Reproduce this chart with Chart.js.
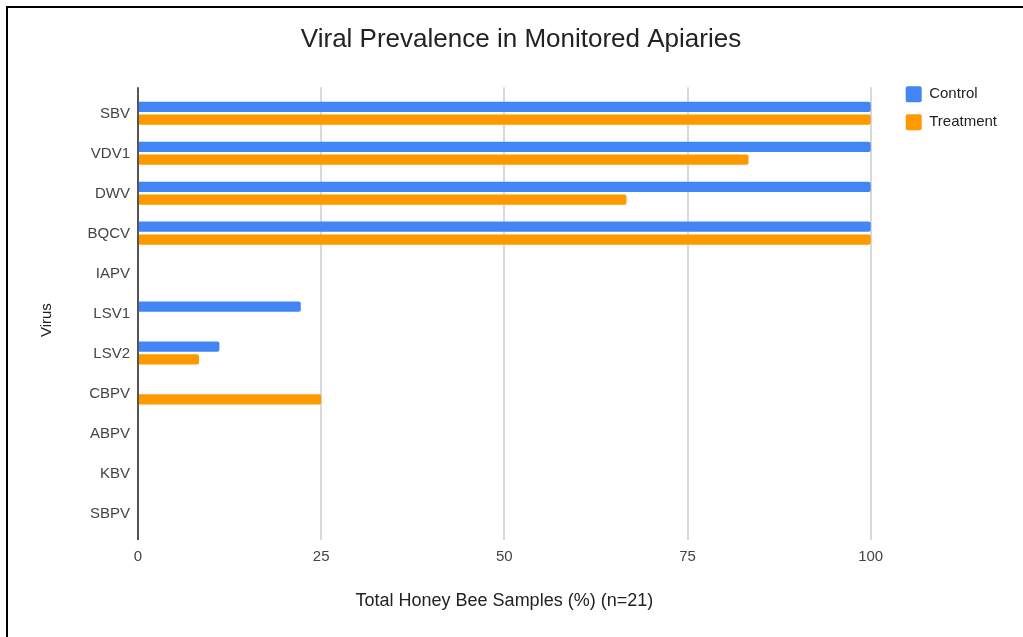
<!DOCTYPE html>
<html>
<head>
<meta charset="utf-8">
<script src="https://cdn.jsdelivr.net/npm/chart.js@4.4.1/dist/chart.umd.min.js"></script>
<style>
  html, body { margin: 0; padding: 0; background: #fff; }
  #wrap { position: relative; width: 1023px; height: 637px; overflow: hidden; }
  #frame { position: absolute; left: 6px; top: 6px; width: 1100px; height: 700px;
           border-top: 2px solid #000; border-left: 2px solid #000; pointer-events: none; }
  canvas { position: absolute; left: 0; top: 0; }
</style>
</head>
<body>
<div id="wrap">
  <canvas id="c" width="1023" height="637"></canvas>
  <div id="frame"></div>
</div>
<script>
const viruses = ['SBV', 'VDV1', 'DWV', 'BQCV', 'IAPV', 'LSV1', 'LSV2', 'CBPV', 'ABPV', 'KBV', 'SBPV'];
const controlValues = [100, 100, 100, 100, 0, 22.22, 11.11, 0, 0, 0, 0];
const treatmentValues = [100, 83.33, 66.67, 100, 0, 0, 8.33, 25, 0, 0, 0];
const xTicks = [0, 25, 50, 75, 100];

Chart.defaults.font.family = "'Liberation Sans', Arial, sans-serif";
Chart.defaults.font.size = 15;
Chart.defaults.color = '#444';

const GRID = '#d9d9d9';
const AXIS = '#555';

const tweaks = {
  id: 'tweaks',
  afterLayout(chart) {
    const ca = chart.chartArea;
    // legend placement (top-right, above plot top)
    const lg = chart.legend;
    const dx = (ca.right + 23) - lg.left;
    const dy = (ca.top - 19) - lg.top;
    lg.left += dx; lg.right += dx; lg.top += dy; lg.bottom += dy;
    // chart title centred slightly right, as in the reference
    const tb = chart.titleBlock;
    tb.left += 29; tb.right += 29;
    // y-axis title centred a little lower
    const ys = chart.scales.y;
    ys.top = ca.top + 14;
  },
  afterDraw(chart) {
    const xs = chart.scales.x, top = chart.chartArea.top, ctx = chart.ctx;
    ctx.save();
    ctx.lineWidth = 2;
    xs.ticks.forEach(t => {
      const px = Math.round(xs.getPixelForValue(t.value));
      ctx.strokeStyle = t.value === 0 ? AXIS : GRID;
      ctx.beginPath();
      ctx.moveTo(px, top - 6);
      ctx.lineTo(px, top);
      ctx.stroke();
    });
    ctx.restore();
  }
};

new Chart(document.getElementById('c'), {
  type: 'bar',
  data: {
    labels: viruses,
    datasets: [
      { label: 'Control', data: controlValues, backgroundColor: '#4285F4', borderWidth: 0, borderRadius: 2, clip: false },
      { label: 'Treatment', data: treatmentValues, backgroundColor: '#FF9900', borderWidth: 0, borderRadius: 2, clip: false }
    ]
  },
  options: {
    indexAxis: 'y',
    responsive: false,
    animation: false,
    devicePixelRatio: 1,
    categoryPercentage: 0.64,
    barPercentage: 0.8,
    layout: { padding: { left: 0, right: 39, top: 0, bottom: 0 } },
    plugins: {
      title: {
        display: true,
        text: 'Viral Prevalence in Monitored Apiaries',
        color: '#222',
        font: { size: 26, weight: 'normal' },
        padding: { top: 24, bottom: 38 }
      },
      legend: {
        position: 'right',
        align: 'start',
        labels: {
          boxWidth: 16, boxHeight: 16, padding: 12, color: '#222',
          font: { size: 15 }, useBorderRadius: true, borderRadius: 2
        }
      },
      tooltip: { enabled: false }
    },
    scales: {
      x: {
        type: 'linear',
        min: 0, max: 100,
        afterBuildTicks: s => { s.ticks = xTicks.map(v => ({ value: v })); },
        afterFit: s => { s.height = 104; },
        ticks: { color: '#444', padding: 8, font: { size: 15 } },
        grid: {
          color: c => (c.tick && c.tick.value === 0 ? AXIS : GRID),
          tickColor: c => (c.tick && c.tick.value === 0 ? AXIS : GRID),
          lineWidth: 2, tickLength: 7
        },
        border: { display: false },
        title: {
          display: true, text: 'Total Honey Bee Samples (%) (n=21)', color: '#222',
          font: { size: 18 }, padding: { top: 0, bottom: 25 }
        }
      },
      y: {
        afterFit: s => { s.width = 138; },
        ticks: { color: '#444', padding: 8, labelOffset: 1, font: { size: 15 } },
        grid: { display: false, drawTicks: false },
        border: { display: false },
        title: {
          display: true, text: 'Virus', color: '#222',
          font: { size: 15 }, padding: { top: 38, bottom: 0 }
        }
      }
    }
  },
  plugins: [tweaks]
});
</script>
</body>
</html>
